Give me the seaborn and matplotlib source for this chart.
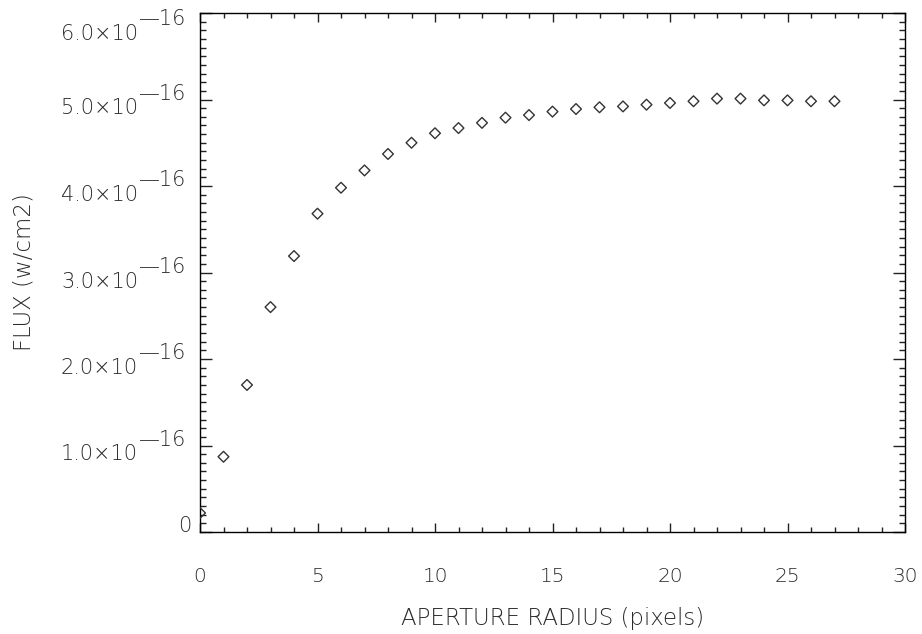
import numpy as np
import pandas as pd
import matplotlib
matplotlib.use("Agg")
import matplotlib.pyplot as plt
import matplotlib.transforms as mtransforms
import seaborn as sns

# ---- data ----
radius = list(range(0, 28))
flux_e16 = [0.22, 0.87, 1.70, 2.60, 3.19, 3.68, 3.98, 4.18, 4.37, 4.50,
            4.61, 4.67, 4.73, 4.79, 4.82, 4.86, 4.89, 4.91, 4.92, 4.94,
            4.96, 4.98, 5.01, 5.01, 4.99, 4.99, 4.98, 4.98]
flux = [v * 1e-16 for v in flux_e16]
x_ticks = [0, 5, 10, 15, 20, 25, 30]
y_ticks = [0, 1e-16, 2e-16, 3e-16, 4e-16, 5e-16, 6e-16]
y_tick_base = ["0", "1.0×10", "2.0×10", "3.0×10", "4.0×10", "5.0×10", "6.0×10"]
y_tick_exp = ["", "\u201416", "\u201416", "\u201416", "\u201416", "\u201416", "\u201416"]
x_label = "APERTURE RADIUS (pixels)"
y_label = "FLUX (w/cm2)"

df = pd.DataFrame({"radius": radius, "flux": flux})

sns.set_style("white")
plt.rcParams["font.family"] = ["DejaVu Sans"]
TXT = "#2a2a2a"

DPI = 100
fig = plt.figure(figsize=(922 / DPI, 634 / DPI), dpi=DPI)
ax = fig.add_axes([200 / 922, 1 - 532 / 634, 705 / 922, 519 / 634])

sns.scatterplot(data=df, x="radius", y="flux", ax=ax, marker="D", s=30,
                facecolors="none", edgecolors="#333333", linewidth=1.0,
                legend=False, zorder=3, clip_on=True)

ax.set_xlim(0, 30)
ax.set_ylim(0, 6e-16)
ax.set_xticks(x_ticks)
ax.set_xticklabels([str(t) for t in x_ticks])
ax.set_xticks(np.arange(0, 31, 1), minor=True)
ax.set_yticks(y_ticks)
ax.set_yticks(np.arange(0, 6.01e-16, 0.1e-16), minor=True)

for s in ax.spines.values():
    s.set_color("black")
    s.set_linewidth(1.0)
    s.set_visible(True)

ax.tick_params(axis="x", which="major", direction="in", length=6.5, width=1,
               top=True, bottom=True, pad=25, labelsize=14.5, labelcolor=TXT,
               color="#222222")
ax.tick_params(axis="x", which="minor", direction="in", length=3.6, width=1,
               top=True, bottom=True, color="#222222")
ax.tick_params(axis="y", which="major", direction="in", length=8.6, width=1,
               left=True, right=True, labelleft=False, color="#222222")
ax.tick_params(axis="y", which="minor", direction="in", length=4.3, width=1,
               left=True, right=True, color="#222222")
for lab in ax.get_xticklabels():
    lab.set_fontweight("light")

YFS = 15
# y tick labels: base text plus a full-size raised exponent (IDL style)
blend = mtransforms.blended_transform_factory(fig.transFigure, ax.transData)
for val, base, ex in zip(y_ticks, y_tick_base, y_tick_exp):
    shift = 0.0
    if val == y_ticks[-1]:
        shift = -12 * 72 / DPI  # top label pushed down to stay inside the frame
    if ex == "":
        tr = mtransforms.offset_copy(blend, fig=fig, x=0, y=0, units="points")
        ax.text(191 / 922, val, base, transform=tr, ha="right", va="baseline",
                fontsize=YFS, color=TXT, fontweight="light")
    else:
        tr_b = mtransforms.offset_copy(blend, fig=fig, x=0,
                                       y=-15 * 72 / DPI + shift, units="points")
        ax.text(138 / 922, val, base, transform=tr_b, ha="right", va="baseline",
                fontsize=YFS, color=TXT, fontweight="light")
        tr_e = mtransforms.offset_copy(blend, fig=fig, x=0,
                                       y=0 + shift, units="points")
        ax.text(139 / 922, val, ex, transform=tr_e, ha="left", va="baseline",
                fontsize=YFS, color=TXT, fontweight="light")

ax.set_xlabel(x_label, fontsize=16.5, color=TXT, labelpad=15, fontweight="light")
ax.set_ylabel("")
fig.text(24 / 922, 1 - 272 / 634, y_label, rotation=90, ha="center",
         va="center", fontsize=16.5, color=TXT, fontweight="light")

fig.savefig("out.png", dpi=DPI, facecolor="white")
